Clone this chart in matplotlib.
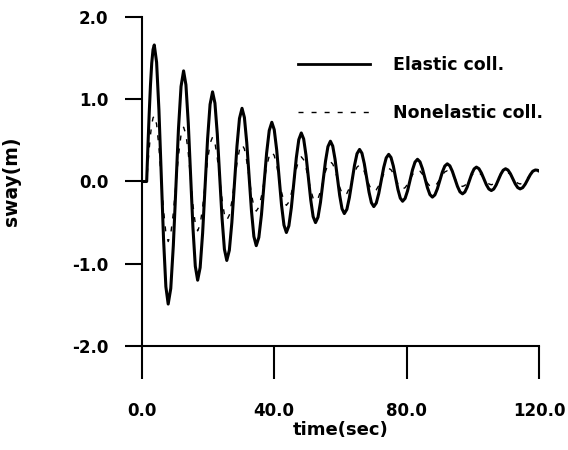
import matplotlib
matplotlib.use("Agg")
import matplotlib.pyplot as plt

# ---- data ----
time = [0, 1.5, 1.88, 2.27, 2.65, 3.03, 3.42,
        3.8, 4.5, 5.2, 5.9, 6.6, 7.3,
        8.0, 8.78, 9.55, 10.33, 11.1, 11.88,
        12.65, 13.36, 14.07, 14.78, 15.48, 16.19,
        16.9, 17.65, 18.4, 19.15, 19.9, 20.65,
        21.4, 22.12, 22.83, 23.55, 24.27, 24.98,
        25.7, 26.47, 27.23, 28.0, 28.77, 29.53,
        30.3, 31.02, 31.73, 32.45, 33.17, 33.88,
        34.6, 35.38, 36.17, 36.95, 37.73, 38.52,
        39.3, 40.03, 40.77, 41.5, 42.23, 42.97,
        43.7, 44.45, 45.2, 45.95, 46.7, 47.45,
        48.2, 48.92, 49.63, 50.35, 51.07, 51.78,
        52.5, 53.25, 54.0, 54.75, 55.5, 56.25,
        57.0, 57.7, 58.4, 59.1, 59.8, 60.5,
        61.2, 61.97, 62.73, 63.5, 64.27, 65.03,
        65.8, 66.52, 67.23, 67.95, 68.67, 69.38,
        70.1, 70.85, 71.6, 72.35, 73.1, 73.85,
        74.6, 75.3, 76.0, 76.7, 77.4, 78.1,
        78.8, 79.55, 80.3, 81.05, 81.8, 82.55,
        83.3, 84.05, 84.8, 85.55, 86.3, 87.05,
        87.8, 88.55, 89.3, 90.05, 90.8, 91.55,
        92.3, 93.07, 93.83, 94.6, 95.37, 96.13,
        96.9, 97.6, 98.3, 99.0, 99.7, 100.4,
        101.1, 101.85, 102.6, 103.35, 104.1, 104.85,
        105.6, 106.32, 107.03, 107.75, 108.47, 109.18,
        109.9, 110.63, 111.37, 112.1, 112.83, 113.57,
        114.3, 115.07, 115.83, 116.6, 117.37, 118.13,
        118.9, 119.5, 120.0]

elastic = [0, 0, 0.43, 0.83, 1.174, 1.438, 1.603,
           1.66, 1.449, 0.873, 0.085, -0.703, -1.279,
           -1.49, -1.300, -0.781, -0.073, 0.636, 1.155,
           1.345, 1.175, 0.709, 0.073, -0.564, -1.030,
           -1.20, -1.047, -0.628, -0.055, 0.518, 0.937,
           1.09, 0.953, 0.578, 0.065, -0.448, -0.823,
           -0.96, -0.836, -0.498, -0.035, 0.428, 0.766,
           0.89, 0.778, 0.473, 0.055, -0.363, -0.668,
           -0.78, -0.680, -0.405, -0.03, 0.345, 0.620,
           0.72, 0.630, 0.385, 0.05, -0.285, -0.530,
           -0.62, -0.539, -0.318, -0.015, 0.288, 0.509,
           0.59, 0.517, 0.318, 0.045, -0.228, -0.427,
           -0.50, -0.434, -0.253, -0.005, 0.243, 0.424,
           0.49, 0.431, 0.27, 0.05, -0.17, -0.331,
           -0.39, -0.338, -0.195, 0.0, 0.195, 0.338,
           0.39, 0.344, 0.217, 0.043, -0.131, -0.258,
           -0.305, -0.262, -0.146, 0.013, 0.171, 0.287,
           0.33, 0.292, 0.188, 0.045, -0.098, -0.202,
           -0.24, -0.206, -0.113, 0.015, 0.143, 0.236,
           0.27, 0.239, 0.155, 0.04, -0.075, -0.159,
           -0.19, -0.163, -0.089, 0.013, 0.114, 0.188,
           0.215, 0.191, 0.124, 0.033, -0.059, -0.126,
           -0.15, -0.128, -0.069, 0.013, 0.094, 0.153,
           0.175, 0.156, 0.104, 0.033, -0.039, -0.091,
           -0.11, -0.092, -0.044, 0.023, 0.089, 0.137,
           0.155, 0.139, 0.094, 0.033, -0.029, -0.074,
           -0.09, -0.075, -0.033, 0.025, 0.083, 0.125,
           0.14, 0.137, 0.13]

nonelastic = [0, 0, 0.207, 0.40, 0.566, 0.693, 0.773,
              0.80, 0.697, 0.418, 0.035, -0.348, -0.627,
              -0.73, -0.637, -0.383, -0.035, 0.313, 0.567,
              0.66, 0.576, 0.345, 0.03, -0.285, -0.516,
              -0.60, -0.524, -0.315, -0.03, 0.255, 0.464,
              0.54, 0.472, 0.288, 0.035, -0.218, -0.402,
              -0.47, -0.408, -0.24, -0.01, 0.22, 0.388,
              0.45, 0.396, 0.248, 0.045, -0.158, -0.306,
              -0.36, -0.312, -0.18, 0.0, 0.18, 0.312,
              0.36, 0.316, 0.198, 0.035, -0.128, -0.246,
              -0.29, -0.250, -0.143, 0.005, 0.153, 0.26,
              0.30, 0.264, 0.165, 0.03, -0.105, -0.204,
              -0.24, -0.208, -0.12, 0.0, 0.12, 0.208,
              0.24, 0.213, 0.138, 0.035, -0.068, -0.143,
              -0.17, -0.145, -0.078, 0.015, 0.108, 0.175,
              0.20, 0.179, 0.12, 0.04, -0.04, -0.099,
              -0.12, -0.101, -0.05, 0.02, 0.09, 0.141,
              0.16, 0.143, 0.098, 0.035, -0.028, -0.073,
              -0.09, -0.075, -0.033, 0.025, 0.083, 0.125,
              0.14, 0.126, 0.088, 0.035, -0.018, -0.056,
              -0.07, -0.057, -0.02, 0.03, 0.08, 0.117,
              0.13, 0.117, 0.083, 0.035, -0.013, -0.047,
              -0.06, -0.048, -0.015, 0.03, 0.075, 0.108,
              0.12, 0.109, 0.08, 0.04, 0.0, -0.029,
              -0.04, -0.029, 0.0, 0.04, 0.08, 0.109,
              0.12, 0.11, 0.083, 0.045, 0.008, -0.02,
              -0.03, -0.02, 0.008, 0.045, 0.083, 0.11,
              0.12, 0.12, 0.12]

series_labels = ["Elastic coll.", "Nonelastic coll."]
xticks = [0, 40, 80, 120]
xtick_labels = ["0.0", "40.0", "80.0", "120.0"]
yticks = [-2, -1, 0, 1, 2]
ytick_labels = ["-2.0", "-1.0", "0.0", "1.0", "2.0"]

plt.rcParams['font.family'] = ['DejaVu Sans']
plt.rcParams['font.weight'] = 'bold'

W, H = 568, 450
fig = plt.figure(figsize=(W / 100, H / 100), dpi=100)
x0, x1, y0, y1 = 141.7, 539, 17, 346
ax = fig.add_axes([x0 / W, 1 - y1 / H, (x1 - x0) / W, (y1 - y0) / H])

ax.plot(time, elastic, color='black', lw=2.2, label=series_labels[0],
        solid_joinstyle='round')
ax.plot(time, nonelastic, color='black', lw=1.0, dashes=(3.6, 5.8),
        label=series_labels[1])

ax.set_xlim(0, 120)
ax.set_ylim(-2, 2)
for s in ['top', 'right']:
    ax.spines[s].set_visible(False)
for s in ['left', 'bottom']:
    ax.spines[s].set_linewidth(1.5)

ax.set_xticks(xticks)
ax.set_xticklabels(xtick_labels, fontsize=12, fontweight='bold')
ax.set_yticks(yticks)
ax.set_yticklabels(ytick_labels, fontsize=12, fontweight='bold')
ax.tick_params(axis='x', direction='out', length=24, width=1.5, pad=16)
ax.tick_params(axis='y', direction='out', length=12, width=1.5, pad=12)

ax.set_xlabel('time(sec)', fontsize=13, fontweight='bold')
ax.xaxis.set_label_coords(0.5, -0.228)
ax.set_ylabel('sway(m)', fontsize=13.5, fontweight='bold')
ax.yaxis.set_label_coords(-0.305, 0.5)

leg = ax.legend(loc='upper left', bbox_to_anchor=(298 / W, 1 - 56 / H),
                bbox_transform=fig.transFigure, frameon=False,
                handlelength=4.15, handletextpad=1.3, labelspacing=1.72,
                borderpad=0, borderaxespad=0,
                prop=dict(weight='bold', size=12.5))
leg.get_lines()[0].set_linewidth(2.0)

fig.savefig('out.png', dpi=100)
